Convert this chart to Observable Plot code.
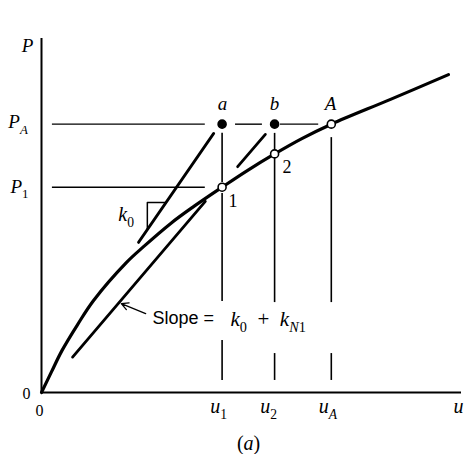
<!DOCTYPE html>
<html>
<head>
<meta charset="utf-8">
<script src="https://cdn.jsdelivr.net/npm/d3@7"></script>
<script src="https://cdn.jsdelivr.net/npm/@observablehq/plot@0.6"></script>
<style>
  html, body { margin: 0; padding: 0; background: #fff; }
  svg { display: block; }
</style>
</head>
<body>
<div id="chart"></div>
<script>
// Load–displacement curve P(u)
const curveU = [0, 0.24, 0.49, 0.86, 1.24, 2.02, 2.43, 3.07, 3.62, 4.30, 4.90, 5.55, 6.21, 6.90, 8.31, 9.69];
const curveP = [0, 0.59, 1.19, 1.92, 2.60, 3.67, 4.12, 4.77, 5.25, 5.80, 6.27, 6.74, 7.18, 7.58, 8.28, 8.98];

// Key values
const uValues = [4.30, 5.55, 6.90];          // u1, u2, uA
const PA = 7.58, P1 = 5.80, P2 = 6.74;

// Horizontal guide segments (P level, from u, to u)
const hSegP  = [PA, PA, PA, P1];
const hSegU1 = [0.26, 4.62, 5.69, 0.26];
const hSegU2 = [3.90, 5.26, 6.60, 3.90];

// Vertical guide segments (u, from P, to P)
const vSegU  = [4.30, 4.30, 4.30, 5.55, 5.55, 5.55, 6.90, 6.90];
const vSegP1 = [7.32, 5.62, 1.47, 7.32, 6.64, 1.10, 7.20, 1.10];
const vSegP2 = [5.93, 2.57, 0.34, 6.84, 2.54, 0.34, 2.54, 0.34];

// Slope lines: k0 from a, parallel from b, secant (k0 + kN1)
const slopeU1 = [4.10, 5.33, 3.90];
const slopeP1 = [7.32, 7.29, 5.40];
const slopeU2 = [2.31, 4.67, 0.74];
const slopeP2 = [4.24, 6.38, 1.00];

// Slope triangle for k0
const triU = [2.52, 2.52, 2.95];
const triP = [4.60, 5.37, 5.37];

// Arrow pointing to the secant line
const arrowU = [2.48, 1.90];
const arrowP = [2.23, 2.51];

// Marked points: a, b, A, 1, 2
const ptU = [4.30, 5.55, 6.90, 4.30, 5.55];
const ptP = [PA, PA, PA, P1, P2];
const ptFilled = [true, true, false, false, false];

// Text labels
const labelText   = ["P", "P_A", "P_1", "0", "0", "u_1", "u_2", "u_A", "u", "(a)", "a", "b", "A", "1", "2", "k_0", "k_0\u2002+\u2002k_N1"];
const labelU      = [-0.33, -0.79, -0.74, -0.36, -0.05, 4.02, 5.21, 6.60, 9.81, 4.93, 4.31, 5.55, 6.88, 4.45, 5.74, 1.83, 4.50];
const labelP      = [9.78, 7.63, 5.82, -0.03, -0.51, -0.39, -0.39, -0.39, -0.39, -1.44, 8.14, 8.14, 8.14, 5.40, 6.36, 5.03, 2.07];
const labelAnchor = ["middle", "start", "start", "middle", "middle", "start", "start", "start", "start", "middle", "middle", "middle", "middle", "start", "start", "start", "start"];
const labelSize   = [19, 19, 19, 16, 16, 20, 20, 20, 20, 20, 19, 19, 19, 18, 18, 20, 21];

const sansLabel = {text: "Slope =", u: 2.64, p: 2.09};

const curve = curveU.map((u, i) => ({u, p: curveP[i]}));
const hSegs = hSegP.map((p, i) => ({x1: hSegU1[i], x2: hSegU2[i], y: p}));
const vSegs = vSegU.map((u, i) => ({x: u, y1: vSegP1[i], y2: vSegP2[i]}));
const slopes = slopeU1.map((u, i) => ({x1: u, y1: slopeP1[i], x2: slopeU2[i], y2: slopeP2[i]}));
const tri = triU.map((u, i) => ({u, p: triP[i]}));
const pts = ptU.map((u, i) => ({u, p: ptP[i], filled: ptFilled[i]}));
const labels = labelText.map((t, i) => ({t, u: labelU[i], p: labelP[i], anchor: labelAnchor[i], size: labelSize[i]}));

const serif = "'Liberation Serif', 'DejaVu Serif', serif";
const sans = "'Liberation Sans', Arial, sans-serif";

const chart = Plot.plot({
  width: 465,
  height: 454,
  marginLeft: 41,
  marginRight: 4,
  marginTop: 38,
  marginBottom: 62,
  x: {domain: [0, 10], axis: null},
  y: {domain: [0, 10], axis: null},
  style: {background: "#fff", color: "#000"},
  marks: [
    // axes
    Plot.ruleX([0], {y1: 0, y2: 10, stroke: "#000", strokeWidth: 2}),
    Plot.ruleY([0], {x1: 0, x2: 10, stroke: "#000", strokeWidth: 2}),
    // guides
    Plot.ruleY(hSegs, {y: "y", x1: "x1", x2: "x2", stroke: "#000", strokeWidth: 1.4}),
    Plot.ruleX(vSegs, {x: "x", y1: "y1", y2: "y2", stroke: "#000", strokeWidth: 1.6}),
    // slope lines
    Plot.link(slopes, {x1: "x1", y1: "y1", x2: "x2", y2: "y2", stroke: "#000", strokeWidth: 2.8, strokeLinecap: "round"}),
    Plot.line(tri, {x: "u", y: "p", stroke: "#000", strokeWidth: 1.5}),
    // curve
    Plot.line(curve, {x: "u", y: "p", curve: "catmull-rom", stroke: "#000", strokeWidth: 3.2, strokeLinecap: "round"}),
    // arrow
    Plot.arrow([{x1: arrowU[0], y1: arrowP[0], x2: arrowU[1], y2: arrowP[1]}], {x1: "x1", y1: "y1", x2: "x2", y2: "y2", stroke: "#000", strokeWidth: 1.3, headLength: 9, headAngle: 55}),
    // points
    Plot.dot(pts, {x: "u", y: "p", r: 4, fill: d => d.filled ? "#000" : "#fff", stroke: "#000", strokeWidth: 1.6}),
    // labels
    Plot.text(labels, {filter: d => d.anchor === "middle", x: "u", y: "p", text: "t", textAnchor: "middle", fontSize: "size", fontFamily: serif, fill: "#000", className: "rich"}),
    Plot.text(labels, {filter: d => d.anchor === "start", x: "u", y: "p", text: "t", textAnchor: "start", fontSize: "size", fontFamily: serif, fill: "#000", className: "rich"}),
    Plot.text([sansLabel], {x: "u", y: "p", text: "text", textAnchor: "start", fontSize: 18, fontFamily: sans, fill: "#000"})
  ]
});

// Format math labels: letters italic, digits upright, "_X" as subscripts
function richify(el) {
  const s = el.textContent;
  if (s === "Slope =") return;
  const fs = parseFloat(el.getAttribute("font-size")) || parseFloat(getComputedStyle(el).fontSize) || 18;
  el.textContent = "";
  const runs = [];
  let i = 0;
  while (i < s.length) {
    if (s[i] === "_") {
      let j = i + 1;
      while (j < s.length && !/\s/.test(s[j])) j++;
      runs.push({t: s.slice(i + 1, j), sub: true});
      i = j;
    } else {
      let j = i;
      while (j < s.length && s[j] !== "_") j++;
      runs.push({t: s.slice(i, j), sub: false});
      i = j;
    }
  }
  let shift = 0;
  const ns = "http://www.w3.org/2000/svg";
  runs.forEach(run => {
    const groups = run.t.match(/[A-Za-z]+|[^A-Za-z]+/g) || [];
    groups.forEach(g => {
      const ts = document.createElementNS(ns, "tspan");
      const size = run.sub ? fs * 0.68 : fs;
      const target = run.sub ? fs * 0.3 : 0;
      ts.setAttribute("dy", (target - shift).toFixed(2));
      shift = target;
      ts.setAttribute("font-size", size);
      if (/[A-Za-z]/.test(g)) ts.setAttribute("font-style", "italic");
      ts.textContent = g.replace(/ /g, "\u00a0");
      el.appendChild(ts);
    });
  });
}
d3.select(chart).selectAll("g.rich").each(function() {
  d3.select(this).selectAll("text").each(function() { if (!this.querySelector("tspan")) richify(this); });
});

document.getElementById("chart").appendChild(chart);
</script>
</body>
</html>
